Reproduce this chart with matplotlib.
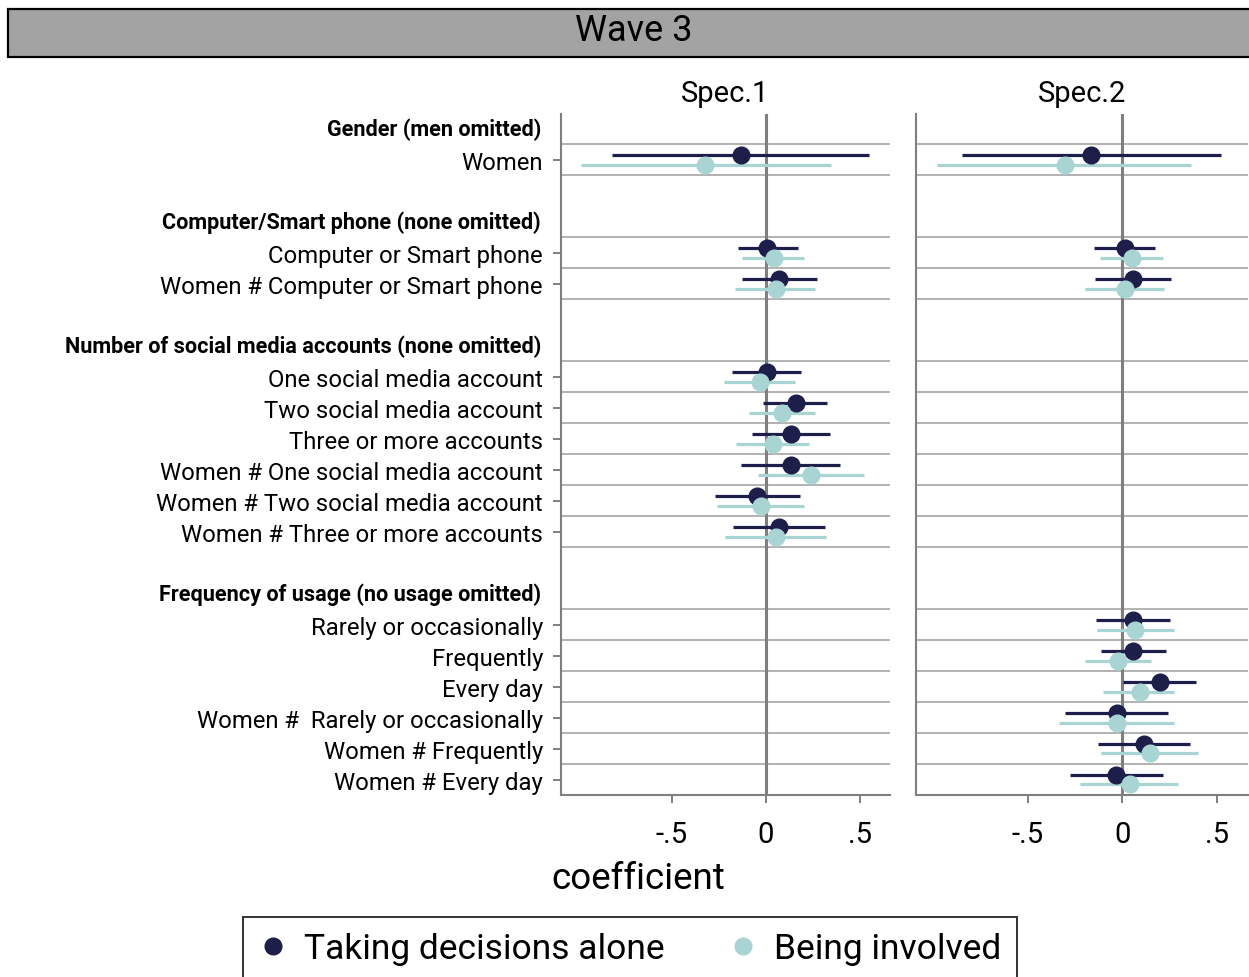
import matplotlib
matplotlib.use("Agg")
import matplotlib.pyplot as plt
from matplotlib.lines import Line2D
from matplotlib.patches import Rectangle
import matplotlib.transforms as mtransforms
import numpy as np

plt.rcParams['font.family'] = ['Roboto', 'DejaVu Sans']

# rows from top to bottom: (label, kind) where kind is 'head', 'coef' or 'gap'
rows = [
    ("Gender (men omitted)", "head"),
    ("Women", "coef"),
    ("", "gap"),
    ("Computer/Smart phone (none omitted)", "head"),
    ("Computer or Smart phone", "coef"),
    ("Women # Computer or Smart phone", "coef"),
    ("", "gap"),
    ("Number of social media accounts (none omitted)", "head"),
    ("One social media account", "coef"),
    ("Two social media account", "coef"),
    ("Three or more accounts", "coef"),
    ("Women # One social media account", "coef"),
    ("Women # Two social media account", "coef"),
    ("Women # Three or more accounts", "coef"),
    ("", "gap"),
    ("Frequency of usage (no usage omitted)", "head"),
    ("Rarely or occasionally", "coef"),
    ("Frequently", "coef"),
    ("Every day", "coef"),
    ("Women #  Rarely or occasionally", "coef"),
    ("Women # Frequently", "coef"),
    ("Women # Every day", "coef"),
]

nan = np.nan
# coefficient rows only, in the same order as above
# Spec.1 - taking decisions alone
s1_alone = [-0.13, 0.007, 0.072, 0.004, 0.159, 0.132, 0.134, -0.048, 0.070,
            nan, nan, nan, nan, nan, nan]
s1_alone_lo = [-0.82, -0.15, -0.128, -0.18, -0.014, -0.074, -0.13, -0.272, -0.176,
               nan, nan, nan, nan, nan, nan]
s1_alone_hi = [0.55, 0.17, 0.273, 0.185, 0.326, 0.34, 0.392, 0.18, 0.316,
               nan, nan, nan, nan, nan, nan]
# Spec.1 - being involved
s1_inv = [-0.325, 0.042, 0.051, -0.032, 0.088, 0.037, 0.24, -0.028, 0.053,
          nan, nan, nan, nan, nan, nan]
s1_inv_lo = [-0.985, -0.127, -0.164, -0.224, -0.088, -0.159, -0.042, -0.261, -0.219,
             nan, nan, nan, nan, nan, nan]
s1_inv_hi = [0.344, 0.205, 0.259, 0.157, 0.261, 0.231, 0.522, 0.205, 0.321,
             nan, nan, nan, nan, nan, nan]
# Spec.2 - taking decisions alone
s2_alone = [-0.166, 0.014, 0.056, nan, nan, nan, nan, nan, nan,
            0.055, 0.058, 0.198, -0.026, 0.113, -0.034]
s2_alone_lo = [-0.845, -0.15, -0.146, nan, nan, nan, nan, nan, nan,
               -0.14, -0.112, 0.005, -0.30, -0.126, -0.277]
s2_alone_hi = [0.52, 0.172, 0.256, nan, nan, nan, nan, nan, nan,
               0.252, 0.234, 0.388, 0.243, 0.357, 0.214]
# Spec.2 - being involved
s2_inv = [-0.305, 0.05, 0.015, nan, nan, nan, nan, nan, nan,
          0.069, -0.024, 0.093, -0.029, 0.147, 0.039]
s2_inv_lo = [-0.978, -0.118, -0.198, nan, nan, nan, nan, nan, nan,
             -0.131, -0.198, -0.10, -0.334, -0.112, -0.225]
s2_inv_hi = [0.365, 0.214, 0.223, nan, nan, nan, nan, nan, nan,
             0.275, 0.152, 0.275, 0.275, 0.403, 0.294]

panels = ["Spec.1", "Spec.2"]
series_names = ["Taking decisions alone", "Being involved"]

DARK = "#1e1e4b"
LIGHT = "#a8d5d4"
GRID = "#a6a6a6"
AXC = "#7f7f7f"

W, H = 1249, 978
fig = plt.figure(figsize=(W / 100, H / 100), dpi=100)

coef_pos = np.array([i for i, (_, k) in enumerate(rows) if k == "coef"])
head_pos = [i for i, (_, k) in enumerate(rows) if k == "head"]
# boundaries around every coefficient row
bounds = sorted(set(list(coef_pos - 0.5) + list(coef_pos + 0.5)))

panel_data = [
    (s1_alone, s1_alone_lo, s1_alone_hi, s1_inv, s1_inv_lo, s1_inv_hi),
    (s2_alone, s2_alone_lo, s2_alone_hi, s2_inv, s2_inv_lo, s2_inv_hi),
]
lefts = [561, 916]
rights = [890, 1248]
top_px, bot_px = 115, 796
off = 0.16

for p, (name, data) in enumerate(zip(panels, panel_data)):
    ax = fig.add_axes([lefts[p] / W, 1 - bot_px / H,
                       (rights[p] - lefts[p]) / W, (bot_px - top_px) / H])
    a, alo, ahi, b, blo, bhi = [np.array(d) for d in data]
    for yb in bounds:
        ax.axhline(yb, color=GRID, lw=1.2, zorder=1)
    ax.axvline(0, color=AXC, lw=2.2, zorder=2)
    ax.hlines(coef_pos - off, alo, ahi, color=DARK, lw=2.3, zorder=3)
    ax.plot(a, coef_pos - off, 'o', color=DARK, ms=12, zorder=4)
    ax.hlines(coef_pos + off, blo, bhi, color=LIGHT, lw=2.3, zorder=3)
    ax.plot(b, coef_pos + off, 'o', color=LIGHT, ms=12, zorder=4)

    ax.set_xlim(-1.09, 0.66 if p == 0 else 0.665)
    ax.set_ylim(len(rows) - 0.5, -0.48)
    ax.set_xticks([-0.5, 0, 0.5])
    ax.set_xticklabels(["-.5", "0", ".5"], fontsize=21)
    ax.tick_params(axis='x', length=6, width=1.4, color=AXC, pad=12)
    for s in ["top", "right"]:
        ax.spines[s].set_visible(False)
    for s in ["left", "bottom"]:
        ax.spines[s].set_color(AXC)
        ax.spines[s].set_linewidth(1.5)
    ax.set_title(name, fontsize=21, pad=9)

    if p == 0:
        ax.set_yticks(coef_pos)
        ax.set_yticklabels([rows[i][0] for i in coef_pos], fontsize=17.2)
        ax.tick_params(axis='y', length=6, width=1.4, color=AXC, pad=7)
        # group headings, right-aligned with the tick labels
        shift = mtransforms.ScaledTranslation(-20 / 100, 0, fig.dpi_scale_trans)
        for i in head_pos:
            ax.text(0, i, rows[i][0],
                    transform=ax.get_yaxis_transform() + shift,
                    ha='right', va='center', fontsize=15.6, fontweight='bold')
    else:
        ax.set_yticks([])

# banner across the top
fig.patches.append(Rectangle((8 / W, 1 - 58 / H), (W - 6) / W, 48 / H,
                             transform=fig.transFigure, facecolor="#a3a3a3",
                             edgecolor="black", lw=1.6))
fig.text(634 / W, 1 - 31 / H, "Wave 3", ha='center', va='center', fontsize=26)

fig.text(638 / W, 1 - 879 / H, "coefficient", ha='center', va='center', fontsize=26.5)

handles = [Line2D([], [], marker='o', ls='none', color=DARK, ms=12),
           Line2D([], [], marker='o', ls='none', color=LIGHT, ms=12)]
leg = fig.legend(handles, series_names, loc='center',
                 bbox_to_anchor=(630 / W, 1 - 950 / H), ncol=2,
                 frameon=True, fancybox=False, edgecolor='black',
                 handlelength=0.8, handletextpad=0.475, columnspacing=1.8,
                 borderpad=0.45, prop={'size': 25.5})
leg.get_frame().set_linewidth(1.4)

fig.savefig("out.png", dpi=100)
